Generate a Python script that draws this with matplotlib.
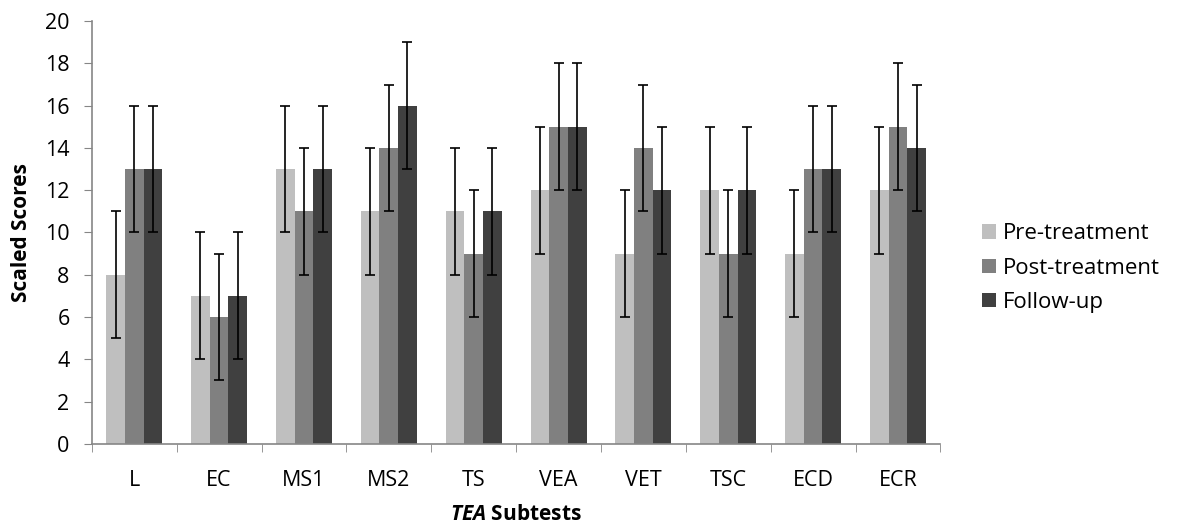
import matplotlib
matplotlib.use("Agg")
import matplotlib.pyplot as plt
import numpy as np

plt.rcParams["font.family"] = ["Open Sans", "DejaVu Sans"]
plt.rcParams["mathtext.fontset"] = "custom"
plt.rcParams["mathtext.bfit"] = "Open Sans:italic:bold"
plt.rcParams["mathtext.rm"] = "Open Sans"

subtests = ["L", "EC", "MS1", "MS2", "TS", "VEA", "VET", "TSC", "ECD", "ECR"]
pre = [8, 7, 13, 11, 11, 12, 9, 12, 9, 12]
post = [13, 6, 11, 14, 9, 15, 14, 9, 13, 15]
follow = [13, 7, 13, 16, 11, 15, 12, 12, 13, 14]
err = 3
series = [("Pre-treatment", pre, "#bfbfbf"),
          ("Post-treatment", post, "#808080"),
          ("Follow-up", follow, "#404040")]

fig = plt.figure(figsize=(11.77, 5.29), dpi=100)
ax = fig.add_axes([0.078, 0.161, 0.721, 0.799])

x = np.arange(len(subtests))
w = 0.22
for i, (name, vals, col) in enumerate(series):
    ax.bar(x + (i - 1) * w, vals, w, color=col, label=name,
           yerr=err, error_kw=dict(ecolor="black", elinewidth=1.2, capsize=3.6, capthick=1.2))

ax.set_xlim(-0.5, len(subtests) - 0.5)
ax.set_ylim(0, 20)
ax.set_yticks(range(0, 21, 2))
ax.set_xticks(x)
ax.set_xticklabels(subtests)
ax.set_xticks(np.arange(len(subtests) + 1) - 0.5, minor=True)
ax.tick_params(axis="x", which="major", length=0, pad=19, labelsize=15.5)
ax.tick_params(axis="x", which="minor", length=6, color="#868686", direction="out")
ax.tick_params(axis="y", length=6, color="#868686", labelsize=15.5, pad=10)
for s in ["top", "right"]:
    ax.spines[s].set_visible(False)
for s in ["left", "bottom"]:
    ax.spines[s].set_color("#868686")
    ax.spines[s].set_linewidth(1.2)

ax.set_ylabel("Scaled Scores", fontsize=15, fontweight="bold", labelpad=9)
ax.set_xlabel(r"$\mathbfit{TEA}$ Subtests", fontsize=15, fontweight="bold", labelpad=9)

fig.legend(loc="center left", bbox_to_anchor=(0.834, 0.493), frameon=False, fontsize=16,
           handlelength=0.65, handleheight=0.6, handletextpad=0.3, labelspacing=0.6,
           borderaxespad=0, borderpad=0)

fig.savefig("out.png", dpi=100)
